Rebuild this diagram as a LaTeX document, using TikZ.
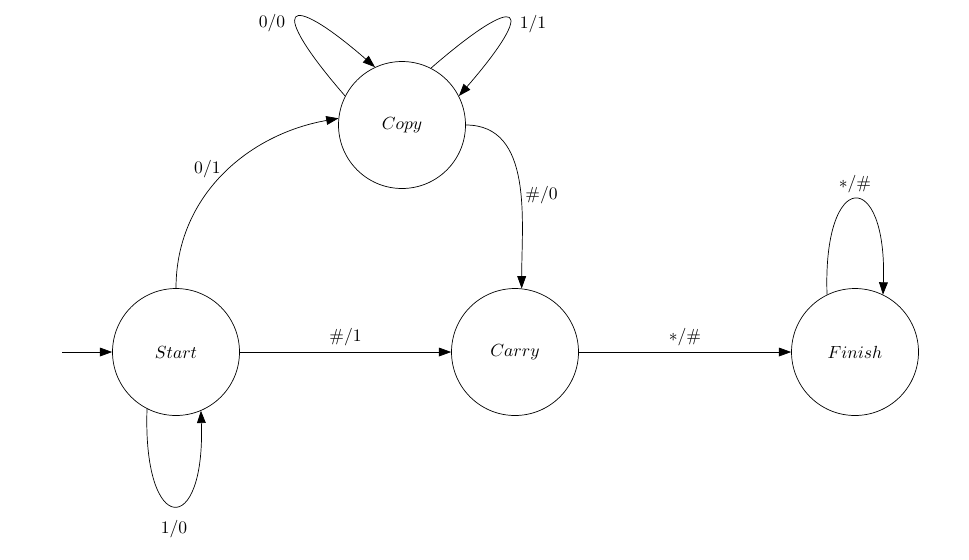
\documentclass[tikz,border=0pt]{standalone}
\usetikzlibrary{arrows.meta}
\begin{document}
\begin{tikzpicture}[x=0.02cm,y=-0.02cm,>={Triangle[length=7pt,width=5pt]}]
	\tikzset{state/.style={draw,circle,minimum size=2.54cm,inner sep=0pt}}
	\useasboundingbox (0,0) rectangle (969,559);
	\node[state] (start) at (176,352) {$Start$};
	\node[state] (copy) at (402,125) {$Copy$};
	\node[state] (carry) at (515,352) {$Carry$};
	\node[state] (finish) at (855,352) {$Finish$};
	\coordinate (init) at (62,352);
	\draw[->] (init)--(start);
	\draw[->] (start)--node[above] (l1) {$\#/1$} (carry);
	\draw[->] (carry)--node[above] (l2) {$*/\#$} (finish);
	\draw[->] (start.north) to[out=90,in=190] node[pos=0.5,left,xshift=2pt,yshift=3pt] (l3) {$0/1$} (copy.174);
	\draw[->] (copy.east) to[out=0,in=90] node[pos=0.57,right,xshift=-1pt] (l4) {$\#/0$} (carry.84);
	% loops
	\draw[->] (copy.153) to[out=131,in=139,distance=2.4cm] node[left,xshift=-3pt,yshift=-3pt] (l5) {$0/0$} (copy.115);
	\draw[->] (copy.63) to[out=41,in=49,distance=2.4cm] node[right,xshift=3pt,yshift=-3pt] (l6) {$1/1$} (copy.27);
	\draw[->] (start.243) to[out=268,in=272,distance=2.56cm] node[below=4.5pt] (l7) {$1/0$} (start.293);
	\draw[->] (finish.116) to[out=92,in=88,distance=2.54cm] node[above] (l8) {$*/\#$} (finish.64);
\end{tikzpicture}
\end{document}
